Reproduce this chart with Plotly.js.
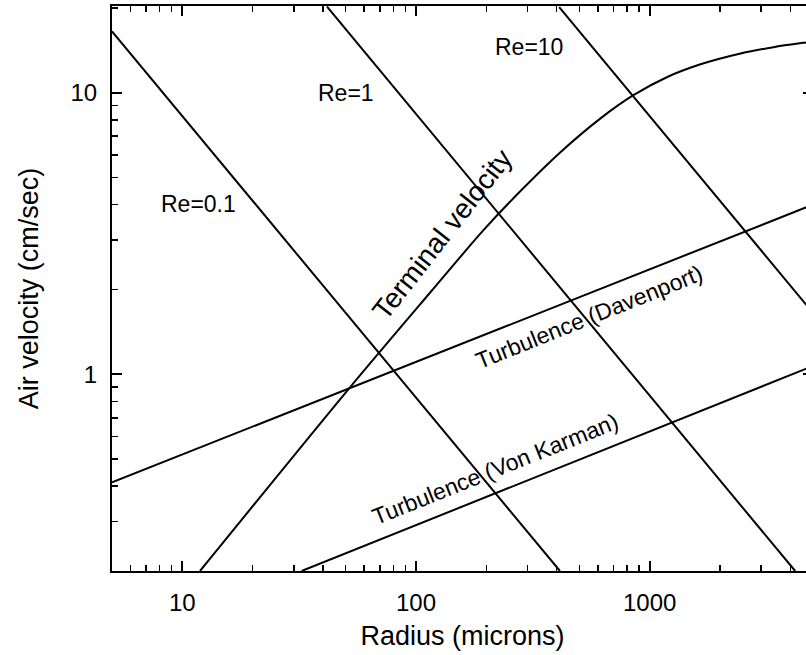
<!DOCTYPE html>
<html>
<head>
<meta charset="utf-8">
<script src="https://cdn.plot.ly/plotly-3.0.1.min.js"></script>
<style>
html, body { margin: 0; padding: 0; overflow: hidden; background: #fff; }
#chart { width: 830px; height: 655px; }
</style>
</head>
<body>
<div id="chart"></div>
<script>
// Reynolds-number lines (radius in microns, air velocity in cm/sec)
const re01X = [5, 413];
const re01Y = [16.5, 0.2];
const re1X = [41.6, 4195];
const re1Y = [20.2, 0.2];
const re10X = [410, 5000];
const re10Y = [20.1, 1.65];

// Terminal velocity curve
const termX = [11.9, 52.3, 115, 194, 280, 415, 616, 852, 1190, 1650, 2450, 3390, 4690, 5000];
const termY = [0.2, 0.9, 1.95, 3.24, 4.47, 6.14, 8.1, 9.79, 11.36, 12.6, 13.77, 14.5, 15.08, 15.19];

// Turbulence lines
const davX = [5, 5000];
const davY = [0.413, 4.0];
const vkX = [32.4, 5000];
const vkY = [0.2, 1.07];

// Axis ticks
const xTickVals = [10, 100, 1000];
const xTickText = ['10', '100', '1000'];
const yTickVals = [1, 10];
const yTickText = ['1', '10'];

// Curve labels
const labelText = ['Re=0.1', 'Re=1', 'Re=10', 'Terminal velocity', 'Turbulence (Davenport)', 'Turbulence (Von Karman)'];
const labelX = [11.7, 50.0, 303, 129.6, 548, 218.6];
const labelY = [4.01, 9.94, 14.5, 3.13, 1.6, 0.46];
const labelAngle = [0, 0, 0, -52, -21.8, -21.8];
const labelSize = [23, 23, 23, 28, 23, 23];

const FONT = 'Liberation Sans, Arial, sans-serif';
const lineStyle = { color: '#000', width: 2 };

function tr(x, y, shape) {
  return { x: x, y: y, type: 'scatter', mode: 'lines', line: Object.assign({}, lineStyle, shape ? { shape: shape, smoothing: 0.8 } : {}), hoverinfo: 'skip', showlegend: false, cliponaxis: true };
}

const data = [
  tr(re01X, re01Y),
  tr(re1X, re1Y),
  tr(re10X, re10Y),
  tr(termX, termY, 'spline'),
  tr(davX, davY),
  tr(vkX, vkY)
];

const annotations = labelText.map((t, i) => ({
  text: t,
  x: Math.log10(labelX[i]),
  y: Math.log10(labelY[i]),
  xref: 'x', yref: 'y',
  showarrow: false,
  textangle: labelAngle[i],
  font: { family: FONT, size: labelSize[i], color: '#000' }
}));

const axisCommon = {
  type: 'log',
  showgrid: false,
  zeroline: false,
  showline: true,
  linecolor: '#000',
  linewidth: 2,
  mirror: 'ticks',
  ticks: 'inside',
  ticklen: 10,
  tickwidth: 2,
  tickcolor: '#000',
  tickfont: { family: FONT, size: 24, color: '#000' },
  minor: { ticks: 'inside', ticklen: 6, tickwidth: 1.5, tickcolor: '#000', dtick: 'D1', showgrid: false }
};

const layout = {
  width: 830,
  height: 655,
  margin: { l: 112, r: 17, t: 6, b: 84 },
  paper_bgcolor: '#fff',
  plot_bgcolor: '#fff',
  showlegend: false,
  xaxis: Object.assign({}, axisCommon, {
    range: [Math.log10(5), Math.log10(5000)],
    tickmode: 'array',
    tickvals: xTickVals,
    ticktext: xTickText,
    ticklabelstandoff: 9,
    title: { text: 'Radius (microns)', font: { family: FONT, size: 27, color: '#000' }, standoff: 11 }
  }),
  yaxis: Object.assign({}, axisCommon, {
    range: [Math.log10(0.2), Math.log10(20.3)],
    tickmode: 'array',
    tickvals: yTickVals,
    ticktext: yTickText,
    ticklabelstandoff: 8,
    title: { text: 'Air velocity (cm/sec)', font: { family: FONT, size: 27, color: '#000' }, standoff: 24 }
  }),
  annotations: annotations
};

Plotly.newPlot('chart', data, layout, { displayModeBar: false, staticPlot: true });
</script>
</body>
</html>
